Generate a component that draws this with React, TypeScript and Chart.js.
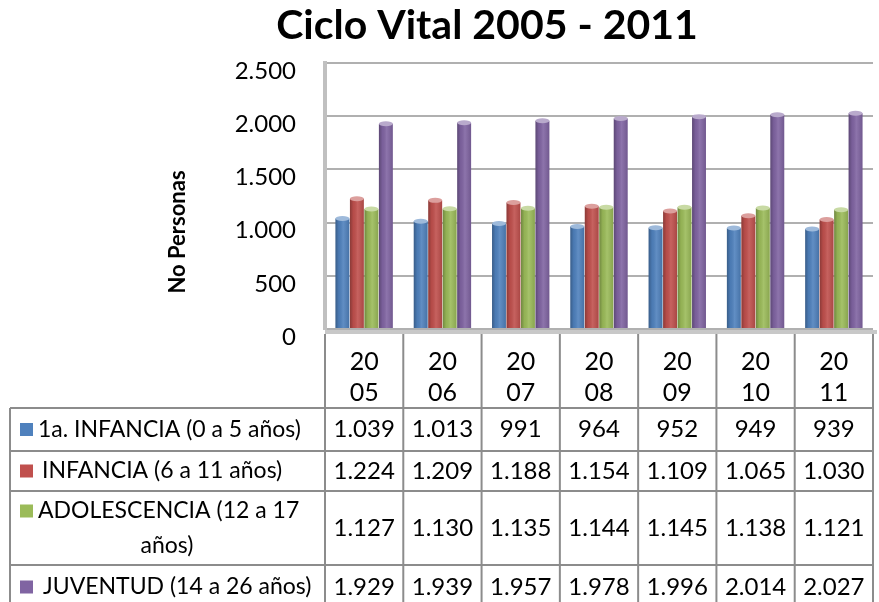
import React, { useEffect, useRef } from "react";
import { Chart, registerables } from "chart.js";

Chart.register(...registerables);

const TITLE = "Ciclo Vital 2005 - 2011";
const Y_TITLE = "No Personas";
const YEARS = ["2005", "2006", "2007", "2008", "2009", "2010", "2011"];
const SERIES_NAMES = [
  "1a. INFANCIA (0 a 5 años)",
  "INFANCIA (6 a 11 años)",
  "ADOLESCENCIA (12 a 17 años)",
  "JUVENTUD (14 a 26 años)",
];
const PRIMERA_INFANCIA = [1039, 1013, 991, 964, 952, 949, 939];
const INFANCIA = [1224, 1209, 1188, 1154, 1109, 1065, 1030];
const ADOLESCENCIA = [1127, 1130, 1135, 1144, 1145, 1138, 1121];
const JUVENTUD = [1929, 1939, 1957, 1978, 1996, 2014, 2027];
const Y_TICKS = [0, 500, 1000, 1500, 2000, 2500];
const COLORS = ["#4F81BD", "#C0504D", "#9BBB59", "#8064A2"];

const FONT = "Lato, 'Liberation Sans', sans-serif";

const fmt = (n: number) => String(n).replace(/\B(?=(\d{3})+(?!\d))/g, ".");

function hexToRgb(h: string) {
  const v = parseInt(h.slice(1), 16);
  return [(v >> 16) & 255, (v >> 8) & 255, v & 255];
}

const shadePlugin = {
  id: "shade",
  afterDatasetsDraw(chart: any) {
    const ctx = chart.ctx;
    chart.data.datasets.forEach((ds: any, di: number) => {
      const meta = chart.getDatasetMeta(di);
      const [r, g, b] = hexToRgb(COLORS[di]);
      meta.data.forEach((el: any) => {
        const { x, y, base, width } = el.getProps(["x", "y", "base", "width"], true);
        const l = x - width / 2;
        const grad = ctx.createLinearGradient(l, 0, l + width, 0);
        grad.addColorStop(0, "rgba(0,0,0,0.28)");
        grad.addColorStop(0.25, "rgba(0,0,0,0.05)");
        grad.addColorStop(0.55, "rgba(255,255,255,0.10)");
        grad.addColorStop(1, "rgba(0,0,0,0.12)");
        ctx.save();
        ctx.fillStyle = grad;
        ctx.fillRect(l, y, width, base - y);
        ctx.fillStyle = `rgb(${Math.round(r + (255 - r) * 0.45)},${Math.round(g + (255 - g) * 0.45)},${Math.round(b + (255 - b) * 0.45)})`;
        ctx.beginPath();
        ctx.ellipse(x, y, width / 2, 2.5, 0, 0, Math.PI * 2);
        ctx.fill();
        ctx.restore();
      });
    });
  },
};

const tablePlugin = {
  id: "table",
  afterDraw(chart: any) {
    const ctx = chart.ctx;
    const area = chart.chartArea;
    const n = YEARS.length;
    const colW = (area.right - area.left) / n;
    const bounds = Array.from({ length: n + 1 }, (_, i) => area.left + i * colW);
    const lineColor = "#8c8c8c";
    ctx.save();

    ctx.fillStyle = "#000";
    ctx.font = `bold 41px ${FONT}`;
    ctx.textAlign = "center";
    ctx.textBaseline = "alphabetic";
    ctx.fillText(TITLE, 487, 39);

    ctx.save();
    ctx.translate(178, 232);
    ctx.rotate(-Math.PI / 2);
    ctx.font = `bold 22px ${FONT}`;
    ctx.textAlign = "center";
    ctx.textBaseline = "middle";
    ctx.fillText(Y_TITLE, 0, 0);
    ctx.restore();

    ctx.strokeStyle = "#c8c8c8";
    ctx.lineWidth = 4;
    ctx.beginPath();
    ctx.moveTo(area.left, area.bottom + 3);
    ctx.lineTo(area.right + 4, area.bottom + 3);
    ctx.stroke();

    const headerTop = area.bottom + 5;
    const rowLines = [408, 451, 491, 565, 609];
    const tableLeft = 10;

    ctx.strokeStyle = lineColor;
    ctx.lineWidth = 2;
    bounds.forEach((bx) => {
      ctx.beginPath();
      ctx.moveTo(bx, headerTop);
      ctx.lineTo(bx, rowLines[0]);
      ctx.stroke();
    });
    rowLines.forEach((ry) => {
      ctx.beginPath();
      ctx.moveTo(tableLeft, ry);
      ctx.lineTo(bounds[n], ry);
      ctx.stroke();
    });
    [tableLeft, ...bounds].forEach((bx) => {
      ctx.beginPath();
      ctx.moveTo(bx, rowLines[0]);
      ctx.lineTo(bx, rowLines[rowLines.length - 1]);
      ctx.stroke();
    });

    ctx.fillStyle = "#000";
    ctx.font = `25px ${FONT}`;
    ctx.textBaseline = "middle";
    ctx.textAlign = "center";
    YEARS.forEach((yr, i) => {
      const cx = (bounds[i] + bounds[i + 1]) / 2;
      ctx.fillText(yr.slice(0, 2), cx, 362);
      ctx.fillText(yr.slice(2), cx, 393);
    });

    const seriesVals = [PRIMERA_INFANCIA, INFANCIA, ADOLESCENCIA, JUVENTUD];
    const rowCenters = rowLines.slice(0, 4).map((t, i) => (t + rowLines[i + 1]) / 2);
    rowCenters[3] = 587;
    const textX = [38, 42, 38, 43];
    seriesVals.forEach((vals, r) => {
      const cy = rowCenters[r];
      ctx.font = `24px ${FONT}`;
      vals.forEach((v, i) => {
        const cx = (bounds[i] + bounds[i + 1]) / 2;
        ctx.textAlign = "center";
        ctx.fillStyle = "#000";
        ctx.fillText(fmt(v), cx, cy);
      });
      const keyY = r === 2 ? 511 : cy;
      ctx.fillStyle = COLORS[r];
      ctx.fillRect(20, keyY - 6.5, 13, 13);
      ctx.fillStyle = "#000";
      ctx.textAlign = "left";
      ctx.font = `23px ${FONT}`;
      if (r === 2) {
        const name = SERIES_NAMES[r];
        const cut = name.lastIndexOf(" ");
        ctx.fillText(name.slice(0, cut), textX[r], 511);
        ctx.textAlign = "center";
        ctx.fillText(name.slice(cut + 1), 167, 546);
      } else {
        ctx.fillText(SERIES_NAMES[r], textX[r], cy);
      }
    });
    ctx.restore();
  },
};

export default function App() {
  const ref = useRef<HTMLCanvasElement | null>(null);
  useEffect(() => {
    document.body.style.margin = "0";
    const canvas = ref.current;
    if (!canvas) return;
    const chart = new Chart(canvas, {
      type: "bar",
      data: {
        labels: YEARS,
        datasets: [PRIMERA_INFANCIA, INFANCIA, ADOLESCENCIA, JUVENTUD].map((d, i) => ({
          label: SERIES_NAMES[i],
          data: d,
          backgroundColor: COLORS[i],
          categoryPercentage: 0.74,
          barPercentage: 0.96,
        })),
      },
      options: {
        animation: false,
        responsive: false,
        layout: { padding: { top: 63, right: 6, bottom: 273, left: 0 } },
        plugins: {
          legend: { display: false },
          title: { display: false },
          tooltip: { enabled: false },
        },
        scales: {
          x: { display: false },
          y: {
            min: 0,
            max: 2500,
            afterFit: (s: any) => {
              s.width = 325;
            },
            afterBuildTicks: (s: any) => {
              s.ticks = Y_TICKS.map((v) => ({ value: v }));
            },
            ticks: {
              padding: 29,
              labelOffset: 8,
              color: "#000",
              font: { family: FONT, size: 24 },
              callback: (v: any) => fmt(Number(v)),
            },
            grid: { color: "#b0b0b0", lineWidth: 2, drawTicks: false },
            border: { display: true, color: "#c0c0c0", width: 4 },
          },
        },
      },
      plugins: [shadePlugin, tablePlugin],
    });
    return () => chart.destroy();
  }, []);
  return (
    <div style={{ width: 879, height: 602, background: "#fff" }}>
      <canvas ref={ref} width={879} height={602} style={{ display: "block" }} />
    </div>
  );
}
